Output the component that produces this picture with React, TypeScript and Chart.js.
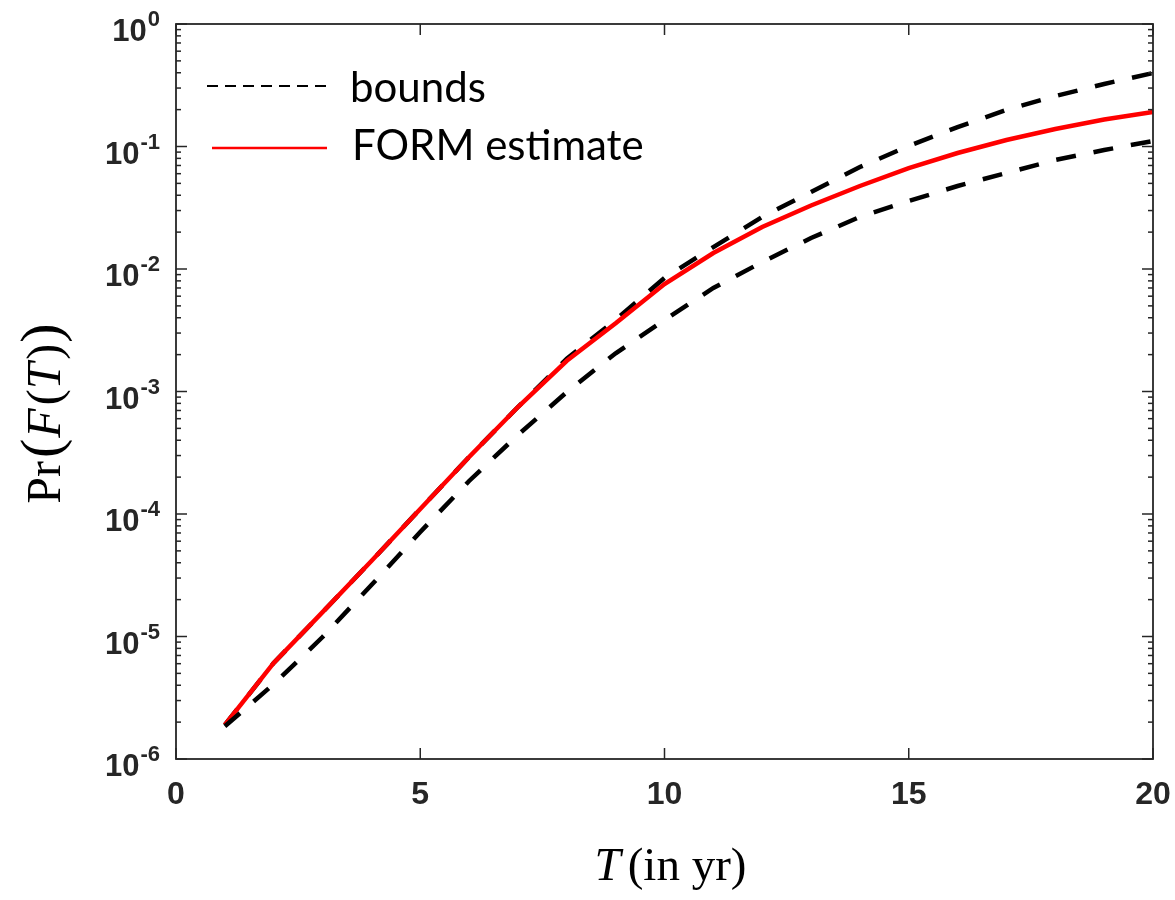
import React, { useEffect, useRef } from 'react';
import { Chart, registerables } from 'chart.js';

Chart.register(...registerables);

// ---- data ----
const years = [1, 2, 3, 4, 5, 6, 7, 8, 9, 10, 11, 12, 13, 14, 15, 16, 17, 18, 19, 20];
const formEstimate = [1.9e-6, 6.08e-6, 1.58e-5, 4.13e-5, 1.1e-4, 2.92e-4, 7.47e-4, 1.78e-3, 3.6e-3, 7.54e-3, 1.35e-2, 2.2e-2, 3.3e-2, 4.76e-2, 6.67e-2, 8.85e-2, 0.113, 0.139, 0.166, 0.191];
const upperBound = [1.9e-6, 6.08e-6, 1.58e-5, 4.13e-5, 1.1e-4, 2.92e-4, 7.47e-4, 1.85e-3, 3.85e-3, 8.45e-3, 1.51e-2, 2.66e-2, 4.25e-2, 6.8e-2, 0.101, 0.144, 0.199, 0.258, 0.324, 0.398];
const lowerBound = [1.85e-6, 4.09e-6, 9.9e-6, 2.63e-5, 7.13e-5, 1.86e-4, 4.42e-4, 9.9e-4, 2.05e-3, 3.83e-3, 7.0e-3, 1.14e-2, 1.79e-2, 2.66e-2, 3.59e-2, 4.76e-2, 6.08e-2, 7.76e-2, 9.36e-2, 0.111];
const xTicks = [0, 5, 10, 15, 20];
const yTickExponents = [-6, -5, -4, -3, -2, -1, 0];
const legendLabels = ['bounds', 'FORM estimate'];

const AXIS_COLOR = '#262626';

type Part = { t: string; font: string; gap?: number };

function drawRich(ctx: CanvasRenderingContext2D, parts: Part[], cx: number, baseline: number) {
  let total = 0;
  const widths = parts.map((p) => {
    ctx.font = p.font;
    const w = ctx.measureText(p.t).width + (p.gap || 0);
    total += w;
    return w;
  });
  let x = cx - total / 2;
  ctx.textAlign = 'left';
  ctx.textBaseline = 'alphabetic';
  parts.forEach((p, i) => {
    ctx.font = p.font;
    ctx.fillText(p.t, x + (p.gap || 0), baseline);
    x += widths[i];
  });
}

const matlabAxes = {
  id: 'matlabAxes',
  afterDraw(chart: any) {
    const { ctx, chartArea: a } = chart;
    const xs = chart.scales.x;
    const ys = chart.scales.y;
    ctx.save();

    // frame
    ctx.strokeStyle = AXIS_COLOR;
    ctx.lineWidth = 1.8;
    ctx.setLineDash([]);
    ctx.strokeRect(a.left, a.top, a.right - a.left, a.bottom - a.top);

    // ticks
    ctx.lineWidth = 1.5;
    const seg = (x1: number, y1: number, x2: number, y2: number) => {
      ctx.beginPath();
      ctx.moveTo(x1, y1);
      ctx.lineTo(x2, y2);
      ctx.stroke();
    };
    for (const e of yTickExponents) {
      for (let m = 1; m <= 9; m++) {
        if (e === 0 && m > 1) break;
        const py = ys.getPixelForValue(m * Math.pow(10, e));
        const len = m === 1 ? 11 : 5;
        seg(a.left, py, a.left + len, py);
        seg(a.right, py, a.right - len, py);
      }
    }
    for (const t of xTicks) {
      const px = xs.getPixelForValue(t);
      seg(px, a.bottom, px, a.bottom - 11);
      seg(px, a.top, px, a.top + 11);
    }

    // tick labels
    ctx.fillStyle = AXIS_COLOR;
    ctx.textBaseline = 'alphabetic';
    ctx.font = 'bold 32px "Liberation Sans", Arial, sans-serif';
    ctx.textAlign = 'center';
    for (const t of xTicks) {
      ctx.fillText(String(t), xs.getPixelForValue(t), a.bottom + 45);
    }
    const baseFont = 'bold 31px "Liberation Sans", Arial, sans-serif';
    const expFont = 'bold 22px "Liberation Sans", Arial, sans-serif';
    for (const e of yTickExponents) {
      const py = ys.getPixelForValue(Math.pow(10, e));
      const right = a.left - 16;
      ctx.textAlign = 'right';
      ctx.font = expFont;
      const expText = String(e);
      ctx.fillText(expText, right, py + 2);
      const ew = ctx.measureText(expText).width;
      ctx.font = baseFont;
      ctx.fillText('10', right - ew - 1, py + 17);
    }

    // axis titles
    ctx.fillStyle = '#000';
    const serif = '"Liberation Serif", "Times New Roman", serif';
    drawRich(
      ctx,
      [
        { t: 'T', font: `italic 47px ${serif}` },
        { t: '(in yr)', font: `47px ${serif}`, gap: 7 },
      ],
      (a.left + a.right) / 2 + 6,
      a.bottom + 121
    );
    ctx.save();
    ctx.translate(60, (a.top + a.bottom) / 2 + 22);
    ctx.rotate(-Math.PI / 2);
    drawRich(
      ctx,
      [
        { t: 'Pr', font: `48px ${serif}` },
        { t: '(', font: `58px ${serif}`, gap: 3 },
        { t: 'F', font: `italic 48px ${serif}`, gap: 1 },
        { t: '(', font: `48px ${serif}`, gap: 3 },
        { t: 'T', font: `italic 48px ${serif}` },
        { t: ')', font: `48px ${serif}`, gap: 3 },
        { t: ')', font: `58px ${serif}`, gap: 1 },
      ],
      0,
      0
    );
    ctx.restore();

    // legend
    const lx = a.left;
    const ly = a.top;
    ctx.strokeStyle = '#000';
    ctx.lineWidth = 2;
    ctx.setLineDash([11, 7]);
    seg(lx + 31, ly + 62, lx + 151, ly + 62);
    ctx.setLineDash([]);
    ctx.strokeStyle = '#ff0000';
    ctx.lineWidth = 2.5;
    seg(lx + 36, ly + 124, lx + 151, ly + 124);
    ctx.fillStyle = '#000';
    ctx.textAlign = 'left';
    ctx.font = '42px Lato, "Noto Sans", sans-serif';
    ctx.fillText(legendLabels[0], lx + 174, ly + 78);
    ctx.fillText(legendLabels[1], lx + 176, ly + 136);

    ctx.restore();
  },
};

export default function App() {
  const ref = useRef<HTMLCanvasElement | null>(null);

  useEffect(() => {
    document.body.style.margin = '0';
    const canvas = ref.current;
    if (!canvas) return;
    const toPts = (vals: number[]) => years.map((t, i) => ({ x: t, y: vals[i] }));
    const chart = new Chart(canvas, {
      type: 'line',
      data: {
        datasets: [
          {
            label: 'bounds (lower)',
            data: toPts(lowerBound),
            borderColor: '#000',
            borderWidth: 4.5,
            borderDash: [20, 18],
            pointRadius: 0,
            tension: 0,
            fill: false,
          },
          {
            label: 'FORM estimate',
            data: toPts(formEstimate),
            borderColor: '#ff0000',
            borderWidth: 4.5,
            pointRadius: 0,
            tension: 0,
            fill: false,
          },
          {
            label: 'bounds',
            data: toPts(upperBound),
            borderColor: '#000',
            borderWidth: 4.5,
            borderDash: [20, 18],
            pointRadius: 0,
            tension: 0,
            fill: false,
          },
        ],
      },
      options: {
        responsive: false,
        animation: false,
        devicePixelRatio: 1,
        layout: { padding: { left: 176, right: 22, top: 24, bottom: 141 } },
        plugins: { legend: { display: false }, tooltip: { enabled: false }, title: { display: false } },
        scales: {
          x: { type: 'linear', min: 0, max: 20, display: false },
          y: { type: 'logarithmic', min: 1e-6, max: 1, display: false },
        },
      },
      plugins: [matlabAxes],
    });
    return () => chart.destroy();
  }, []);

  return (
    <div style={{ position: 'absolute', left: 0, top: 0, width: 1175, height: 900, background: '#fff' }}>
      <canvas ref={ref} width={1175} height={900} style={{ display: 'block' }} />
    </div>
  );
}
